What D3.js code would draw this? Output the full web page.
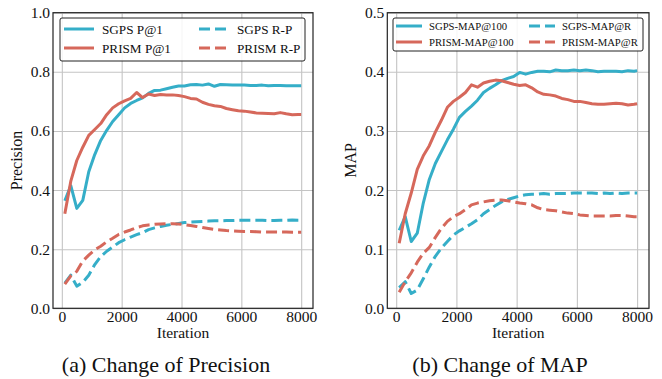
<!DOCTYPE html>
<html>
<head>
<meta charset="utf-8">
<script src="https://cdn.jsdelivr.net/npm/d3@7"></script>
<style>
  body { margin: 0; background: #fff; }
  svg { display: block; font-family: 'Liberation Serif', 'DejaVu Serif', serif; }
</style>
</head>
<body>
<svg id="chart" width="662" height="379"></svg>
<script>
// iterations shared by all series
const iterations = [100,300,500,700,900,1100,1300,1500,1700,1900,2100,2300,2500,2700,2900,3100,3300,3500,3700,3900,4100,4300,4500,4700,4900,5100,5300,5500,5700,5900,6100,6300,6500,6700,6900,7100,7300,7500,7700,7900,8000];

// (a) precision
const sgpsP1 = [0.364,0.415,0.338,0.365,0.462,0.52,0.568,0.602,0.632,0.655,0.678,0.693,0.703,0.712,0.727,0.737,0.738,0.743,0.748,0.752,0.752,0.756,0.757,0.755,0.759,0.751,0.757,0.756,0.755,0.755,0.755,0.754,0.754,0.755,0.753,0.754,0.754,0.753,0.753,0.753,0.753];
const prismP1 = [0.32,0.43,0.50,0.545,0.585,0.605,0.625,0.655,0.678,0.692,0.702,0.71,0.73,0.713,0.725,0.72,0.723,0.722,0.722,0.72,0.716,0.71,0.708,0.697,0.69,0.685,0.683,0.676,0.672,0.668,0.667,0.664,0.661,0.66,0.659,0.658,0.662,0.658,0.655,0.656,0.656];
const sgpsRP = [0.085,0.112,0.075,0.088,0.112,0.148,0.175,0.193,0.207,0.222,0.232,0.241,0.249,0.256,0.266,0.272,0.277,0.281,0.284,0.287,0.29,0.292,0.293,0.294,0.295,0.296,0.296,0.297,0.297,0.298,0.298,0.298,0.298,0.298,0.297,0.297,0.298,0.298,0.299,0.298,0.298];
const prismRP = [0.082,0.11,0.125,0.16,0.18,0.198,0.21,0.225,0.237,0.25,0.258,0.265,0.273,0.279,0.282,0.284,0.285,0.286,0.286,0.285,0.283,0.28,0.277,0.273,0.27,0.267,0.265,0.263,0.262,0.261,0.26,0.26,0.259,0.258,0.258,0.258,0.258,0.258,0.257,0.257,0.257];

// (b) MAP
const sgpsMap100 = [0.132,0.155,0.113,0.127,0.178,0.218,0.245,0.265,0.285,0.303,0.323,0.333,0.342,0.352,0.365,0.372,0.378,0.385,0.389,0.392,0.399,0.396,0.399,0.401,0.401,0.400,0.403,0.402,0.402,0.403,0.402,0.403,0.402,0.400,0.401,0.401,0.401,0.400,0.402,0.401,0.402];
const prismMap100 = [0.11,0.16,0.195,0.235,0.258,0.275,0.298,0.318,0.34,0.35,0.357,0.365,0.378,0.374,0.381,0.384,0.386,0.385,0.382,0.379,0.377,0.378,0.373,0.366,0.362,0.361,0.359,0.355,0.353,0.350,0.350,0.348,0.346,0.345,0.345,0.346,0.347,0.346,0.344,0.345,0.346];
const sgpsMapR = [0.035,0.045,0.025,0.031,0.05,0.07,0.088,0.102,0.113,0.124,0.131,0.137,0.143,0.15,0.16,0.167,0.174,0.18,0.184,0.187,0.19,0.192,0.193,0.193,0.194,0.193,0.194,0.194,0.194,0.195,0.195,0.195,0.195,0.194,0.195,0.194,0.195,0.194,0.195,0.195,0.195];
const prismMapR = [0.027,0.045,0.06,0.078,0.093,0.103,0.12,0.135,0.147,0.155,0.16,0.167,0.175,0.178,0.18,0.182,0.183,0.183,0.182,0.18,0.178,0.177,0.175,0.17,0.167,0.166,0.165,0.163,0.161,0.16,0.158,0.157,0.156,0.156,0.156,0.156,0.157,0.157,0.156,0.155,0.155];

const xTicks = [0, 2000, 4000, 6000, 8000];
const teal = '#35aec8';
const red = '#d6685b';
const dash = '11,5';

const svg = d3.select('#chart');

function drawPanel(opts) {
  const { left, right, top, bottom, yMax, yTicks, yLabel, caption, series, legend } = opts;

  // matplotlib style 5% padding on x
  const pad = (8000 - 100) * 0.05;
  const x = d3.scaleLinear().domain([100 - pad, 8000 + pad]).range([left, right]);
  const y = d3.scaleLinear().domain([0, yMax]).range([bottom, top]);

  const g = svg.append('g');

  // grid
  g.append('g')
    .attr('transform', `translate(0,${bottom})`)
    .call(d3.axisBottom(x).tickValues(xTicks).tickSize(-(bottom - top)).tickFormat(''))
    .call(s => s.select('.domain').remove())
    .selectAll('line').attr('stroke', '#c4c4c4').attr('stroke-width', 1.1);

  g.append('g')
    .attr('transform', `translate(${left},0)`)
    .call(d3.axisLeft(y).tickValues(yTicks).tickSize(-(right - left)).tickFormat(''))
    .call(s => s.select('.domain').remove())
    .selectAll('line').attr('stroke', '#c4c4c4').attr('stroke-width', 1.1);

  // tick labels
  g.append('g')
    .attr('transform', `translate(0,${bottom})`)
    .call(d3.axisBottom(x).tickValues(xTicks).tickSize(0).tickPadding(2.5).tickFormat(d3.format('d')))
    .call(s => s.select('.domain').remove())
    .selectAll('text')
    .attr('fill', '#111')
    .style('font-family', "'Liberation Serif', serif")
    .style('font-size', '15.5px');

  g.append('g')
    .attr('transform', `translate(${left},0)`)
    .call(d3.axisLeft(y).tickValues(yTicks).tickSize(0).tickPadding(3).tickFormat(d3.format('.1f')))
    .call(s => s.select('.domain').remove())
    .selectAll('text')
    .attr('fill', '#111')
    .style('font-family', "'Liberation Serif', serif")
    .style('font-size', '15.5px');

  // lines
  const line = d3.line()
    .x((d, i) => x(iterations[i]))
    .y(d => y(d));

  series.forEach(s => {
    g.append('path')
      .datum(s.values)
      .attr('fill', 'none')
      .attr('stroke', s.color)
      .attr('stroke-width', 3)
      .attr('stroke-dasharray', s.dashed ? dash : null)
      .attr('stroke-linejoin', 'round')
      .attr('d', line);
  });

  // frame
  g.append('rect')
    .attr('x', left).attr('y', top)
    .attr('width', right - left).attr('height', bottom - top)
    .attr('fill', 'none').attr('stroke', '#222').attr('stroke-width', 1.2);

  // axis labels
  g.append('text')
    .attr('x', (left + right) / 2)
    .attr('y', bottom + 30)
    .attr('text-anchor', 'middle')
    .style('font-size', '15.5px')
    .attr('fill', '#111')
    .text('Iteration');

  g.append('text')
    .attr('transform', `translate(${left - 31},${(top + bottom) / 2}) rotate(-90)`)
    .attr('text-anchor', 'middle')
    .style('font-size', '16px')
    .attr('fill', '#111')
    .text(yLabel);

  // caption
  g.append('text')
    .attr('x', caption.x)
    .attr('y', 372)
    .attr('text-anchor', 'middle')
    .style('font-size', '22px')
    .attr('fill', '#111')
    .text(caption.text);

  // legend
  const lg = g.append('g');
  lg.append('rect')
    .attr('x', legend.x).attr('y', legend.y)
    .attr('width', legend.w).attr('height', legend.h)
    .attr('rx', 2)
    .attr('fill', 'rgba(255,255,255,0.85)')
    .attr('stroke', '#222').attr('stroke-width', 1);

  series.forEach((s, i) => {
    const col = i < 2 ? 0 : 1;
    const row = i % 2;
    const lx = legend.x + legend.colX[col];
    const ly = legend.y + legend.rowY[row];
    lg.append('line')
      .attr('x1', lx).attr('x2', lx + legend.sample)
      .attr('y1', ly).attr('y2', ly)
      .attr('stroke', s.color)
      .attr('stroke-width', 3)
      .attr('stroke-dasharray', s.dashed ? dash : null);
    lg.append('text')
      .attr('x', lx + legend.sample + legend.gap)
      .attr('y', ly)
      .attr('dy', '0.35em')
      .style('font-size', legend.font + 'px')
      .attr('fill', '#111')
      .text(s.name);
  });
}

drawPanel({
  left: 53, right: 313, top: 12.7, bottom: 308.3,
  yMax: 1.0, yTicks: [0, 0.2, 0.4, 0.6, 0.8, 1.0],
  yLabel: 'Precision',
  caption: { x: 166, text: '(a) Change of Precision' },
  series: [
    { name: 'SGPS P@1', values: sgpsP1, color: teal, dashed: false },
    { name: 'PRISM P@1', values: prismP1, color: red, dashed: false },
    { name: 'SGPS R-P', values: sgpsRP, color: teal, dashed: true },
    { name: 'PRISM R-P', values: prismRP, color: red, dashed: true }
  ],
  legend: { x: 60, y: 18, w: 245, h: 43, colX: [4, 139], rowY: [11, 30], sample: 30, gap: 8, font: 13.2 }
});

drawPanel({
  left: 387.3, right: 649, top: 12.7, bottom: 308.3,
  yMax: 0.5, yTicks: [0, 0.1, 0.2, 0.3, 0.4, 0.5],
  yLabel: 'MAP',
  caption: { x: 500, text: '(b) Change of MAP' },
  series: [
    { name: 'SGPS-MAP@100', values: sgpsMap100, color: teal, dashed: false },
    { name: 'PRISM-MAP@100', values: prismMap100, color: red, dashed: false },
    { name: 'SGPS-MAP@R', values: sgpsMapR, color: teal, dashed: true },
    { name: 'PRISM-MAP@R', values: prismMapR, color: red, dashed: true }
  ],
  legend: { x: 393, y: 18, w: 250, h: 33, colX: [3, 136], rowY: [8, 24], sample: 26, gap: 7, font: 10.7 }
});
</script>
</body>
</html>
